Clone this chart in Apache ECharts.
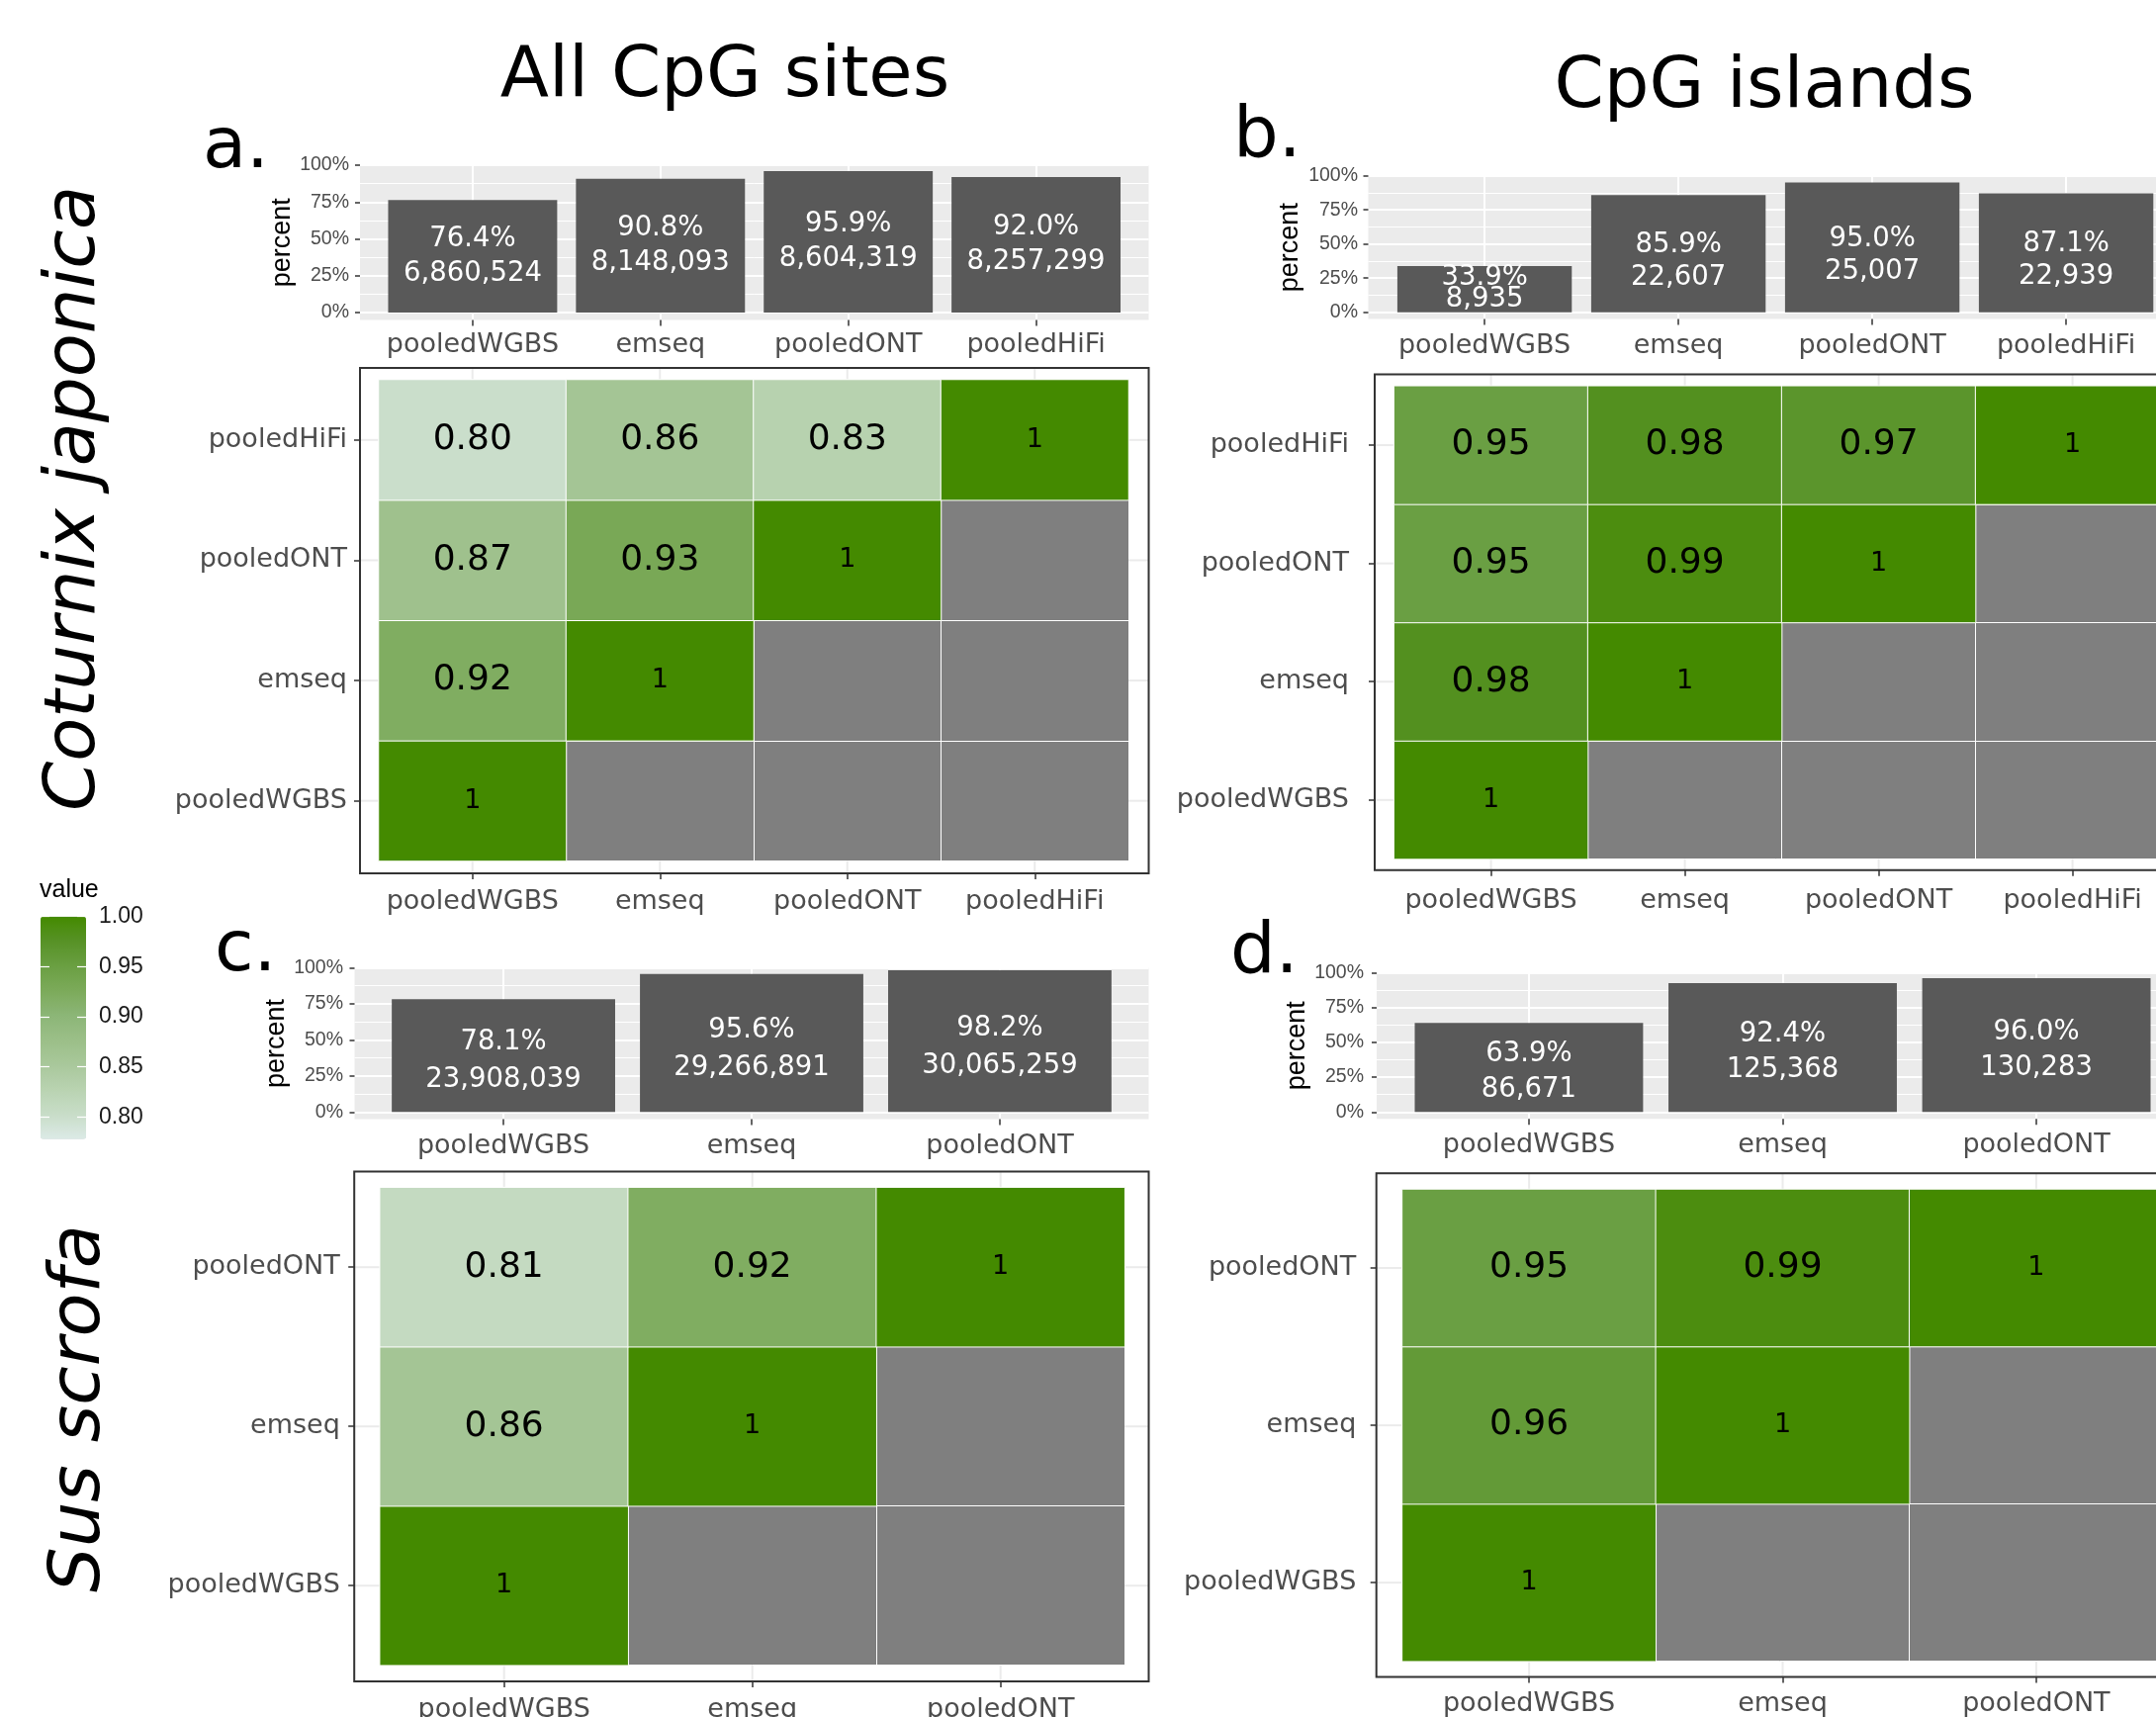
<!DOCTYPE html>
<html><head><meta charset="utf-8">
<script src="https://cdn.jsdelivr.net/npm/echarts@6/dist/echarts.min.js"></script>
<style>html,body{margin:0;padding:0;background:#fff}#c{width:2180px;height:1736px}</style>
</head><body><div id="c"></div>
<script>
// ---------------- data ----------------
const cats4 = ['pooledWGBS', 'emseq', 'pooledONT', 'pooledHiFi'];
const cats3 = ['pooledWGBS', 'emseq', 'pooledONT'];

// a. Coturnix japonica, all CpG sites
const pctA = [76.4, 90.8, 95.9, 92.0];
const countA = [6860524, 8148093, 8604319, 8257299];
// b. Coturnix japonica, CpG islands
const pctB = [33.9, 85.9, 95.0, 87.1];
const countB = [8935, 22607, 25007, 22939];
// c. Sus scrofa, all CpG sites
const pctC = [78.1, 95.6, 98.2];
const countC = [23908039, 29266891, 30065259];
// d. Sus scrofa, CpG islands
const pctD = [63.9, 92.4, 96.0];
const countD = [86671, 125368, 130283];

// correlation matrices: row r = y category (bottom to top), column c = x category; null = NA
const corrA = [
  [1,    null, null, null],
  [0.92, 1,    null, null],
  [0.87, 0.93, 1,    null],
  [0.80, 0.86, 0.83, 1]
];
const corrB = [
  [1,    null, null, null],
  [0.98, 1,    null, null],
  [0.95, 0.99, 1,    null],
  [0.95, 0.98, 0.97, 1]
];
const corrC = [
  [1,    null, null],
  [0.86, 1,    null],
  [0.81, 0.92, 1]
];
const corrD = [
  [1,    null, null],
  [0.96, 1,    null],
  [0.95, 0.99, 1]
];

const yTicks = [0, 0.25, 0.5, 0.75, 1];
const yMinorTicks = [0.125, 0.375, 0.625, 0.875];
const legendTicks = [0.80, 0.85, 0.90, 0.95, 1.00];
const colorMin = 0.778, colorMax = 1.0;
const colorStops = ['#DCEAE6', '#C8DDC8', '#B9D3B1', '#A9C89B', '#9BBF88', '#8CB677', '#7CAA5A', '#6A9F42', '#579226', '#448A00'];

// ---------------- layout (pixels) ----------------
const layout = [
  { bar: {left: 364, top: 167, width: 797.5, height: 156.5, xMargin: 12, yMargin: 11, lineHeight: 35, labelOffset: 0},
    heat: {left: 383, top: 384, width: 758, height: 486.5, pad: [12, 20.5, 12.5, 19], xMargin: 15, yMargin: 13} },
  { bar: {left: 1383.5, top: 177.7, width: 823.2, height: 144.9, xMargin: 14, yMargin: 10.5, lineHeight: 33, labelOffset: 8,
          firstLineHeight: 22, firstOffset: 0},
    heat: {left: 1409.6, top: 390.3, width: 784, height: 478.3, pad: [11.8, 19.6, 11.1, 19.6], xMargin: 18, yMargin: 26} },
  { bar: {left: 358.5, top: 978.3, width: 803, height: 153.3, xMargin: 13.5, yMargin: 11.5, lineHeight: 38, labelOffset: 6},
    heat: {left: 384.2, top: 1200.7, width: 753, height: 483, pad: [16.3, 24.3, 16.3, 26], xMargin: 15, yMargin: 14.4} },
  { bar: {left: 1392, top: 983.3, width: 821, height: 148, xMargin: 13.5, yMargin: 13, lineHeight: 36, labelOffset: 5},
    heat: {left: 1417.9, top: 1202.5, width: 769.2, height: 477.2, pad: [16.3, 26.2, 15.9, 26.2], xMargin: 13.5, yMargin: 20.4} }
];

const panels = [
  {cats: cats4, pct: pctA, count: countA, corr: corrA},
  {cats: cats4, pct: pctB, count: countB, corr: corrB},
  {cats: cats3, pct: pctC, count: countC, corr: corrC},
  {cats: cats3, pct: pctD, count: countD, corr: corrD}
];

const FONT = 'DejaVu Sans';
const FONT2 = 'Liberation Sans';
const AXCOL = '#4D4D4D';
const TICKCOL = '#333333';
const CATSIZE = 27;

const grids = [], xAxes = [], yAxes = [], series = [], heatSeries = [], heatAxes = [];

panels.forEach((p, k) => {
  const n = p.cats.length;
  const B = layout[k].bar, H = layout[k].heat;
  const idx = p.cats.map((_, i) => i);

  // ---- bar chart ----
  const gb = grids.length;
  grids.push({left: B.left, top: B.top, width: B.width, height: B.height, show: true,
    backgroundColor: '#EBEBEB', borderWidth: 0, outerBoundsMode: 'none', containLabel: false});
  const xb = xAxes.length;
  xAxes.push({gridIndex: gb, type: 'value', min: -0.6, max: n - 0.4, position: 'bottom',
    axisLine: {show: false, onZero: false},
    axisTick: {show: true, customValues: idx, length: 6, lineStyle: {color: TICKCOL, width: 1.5}},
    axisLabel: {customValues: idx, formatter: v => p.cats[Math.round(v)], margin: B.xMargin,
      color: AXCOL, fontSize: CATSIZE, fontFamily: FONT},
    splitLine: {show: true, lineStyle: {color: '#FFFFFF', width: 2}}});
  const yb = yAxes.length;
  yAxes.push({gridIndex: gb, type: 'value', min: -0.05, max: 1, position: 'left',
    name: 'percent', nameLocation: 'middle', nameGap: 65, nameRotate: 90,
    nameTextStyle: {fontSize: 27, fontFamily: FONT2, color: '#000'},
    axisLine: {show: false, onZero: false},
    axisTick: {show: true, customValues: yTicks, length: 5, lineStyle: {color: TICKCOL, width: 1.5}},
    axisLabel: {customValues: yTicks, formatter: v => Math.round(v * 100) + '%', margin: B.yMargin,
      color: AXCOL, fontSize: 19.5, fontFamily: FONT2},
    splitLine: {show: true, lineStyle: {color: '#FFFFFF', width: 2}}});
  yAxes.push({gridIndex: gb, type: 'value', min: -0.05, max: 1, position: 'right',
    axisLine: {show: false, onZero: false},
    axisTick: {show: false, customValues: yMinorTicks},
    axisLabel: {show: false},
    splitLine: {show: true, lineStyle: {color: '#FFFFFF', width: 1}}});
  series.push({type: 'bar', xAxisIndex: xb, yAxisIndex: yb, silent: true,
    barWidth: 0.9 * B.width / (n + 0.2),
    itemStyle: {color: '#595959'},
    data: p.pct.map((v, i) => {
      const d = {value: [i, v / 100]};
      if (i === 0 && B.firstLineHeight) d.label = {lineHeight: B.firstLineHeight, offset: [0, B.firstOffset]};
      return d;
    }),
    label: {show: true, position: 'inside', offset: [0, B.labelOffset],
      formatter: prm => p.pct[prm.dataIndex].toFixed(1) + '%\n' + p.count[prm.dataIndex].toLocaleString('en-US'),
      color: '#FFFFFF', fontSize: 27.5, fontFamily: FONT, lineHeight: B.lineHeight},
    emphasis: {disabled: true}});

  // ---- heatmap ----
  const gh = grids.length;
  grids.push({left: H.left, top: H.top, width: H.width, height: H.height, show: true,
    backgroundColor: '#7F7F7F', borderWidth: 0, outerBoundsMode: 'none', containLabel: false});
  const xh = xAxes.length;
  xAxes.push({gridIndex: gh, type: 'category', data: p.cats, position: 'bottom', offset: H.pad[2],
    axisLine: {show: false, onZero: false},
    axisTick: {show: true, alignWithLabel: true, interval: 0, length: 6, lineStyle: {color: TICKCOL, width: 1.5}},
    axisLabel: {interval: 0, margin: H.xMargin, color: AXCOL, fontSize: CATSIZE, fontFamily: FONT},
    splitLine: {show: true, interval: 0, lineStyle: {color: '#FFFFFF', width: 1}}});
  const yh = yAxes.length;
  yAxes.push({gridIndex: gh, type: 'category', data: p.cats, position: 'left', offset: H.pad[3],
    axisLine: {show: false, onZero: false},
    axisTick: {show: true, alignWithLabel: true, interval: 0, length: 6, lineStyle: {color: TICKCOL, width: 1.5}},
    axisLabel: {interval: 0, margin: H.yMargin, color: AXCOL, fontSize: CATSIZE, fontFamily: FONT},
    splitLine: {show: true, interval: 0, lineStyle: {color: '#FFFFFF', width: 1}}});
  const cells = [];
  p.corr.forEach((row, r) => row.forEach((v, c) => { if (v !== null) cells.push([c, r, v]); }));
  heatSeries.push(series.length);
  heatAxes.push({x: xh, y: yh, n: n, H: H});
  series.push({type: 'heatmap', xAxisIndex: xh, yAxisIndex: yh, silent: true,
    data: cells,
    itemStyle: {borderColor: '#FFFFFF', borderWidth: 1},
    label: {show: true,
      formatter: prm => prm.value[2] === 1 ? '{s|1}' : '{b|' + prm.value[2].toFixed(2) + '}',
      rich: {s: {fontSize: 27, fontFamily: FONT, color: '#000'},
             b: {fontSize: 36, fontFamily: FONT, color: '#000'}}},
    emphasis: {disabled: true}});
});

// ---- colour-bar legend ticks/labels ----
const LG = {left: 41, top: 926.7, width: 46, height: 225};
const gl = grids.length;
grids.push({left: LG.left, top: LG.top, width: LG.width, height: LG.height, show: false, outerBoundsMode: 'none', containLabel: false});
xAxes.push({gridIndex: gl, type: 'value', show: false, axisLine: {onZero: false}});
yAxes.push({gridIndex: gl, type: 'value', min: colorMin, max: colorMax, position: 'left', z: 10,
  axisLine: {show: false, onZero: false},
  axisTick: {show: true, inside: true, length: 9, customValues: legendTicks, lineStyle: {color: '#FFFFFF', width: 1.2}},
  axisLabel: {show: false}, splitLine: {show: false}});
yAxes.push({gridIndex: gl, type: 'value', min: colorMin, max: colorMax, position: 'right', z: 10,
  axisLine: {show: false, onZero: false},
  axisTick: {show: true, inside: true, length: 9, customValues: legendTicks, lineStyle: {color: '#FFFFFF', width: 1.2}},
  axisLabel: {customValues: legendTicks, formatter: v => v.toFixed(2), margin: 13,
    color: '#1A1A1A', fontSize: 23, fontFamily: FONT2},
  splitLine: {show: false}});

// ---- text ----
function txt(t, x, y, size, opts) {
  opts = opts || {};
  return {type: 'text', x: x, y: y, rotation: opts.rot ? Math.PI / 2 : 0, z: 20, silent: true,
    style: {text: t, x: 0, y: 0, fill: '#000', fontSize: size, fontFamily: opts.family || FONT,
      fontStyle: opts.italic ? 'italic' : 'normal',
      align: opts.align || 'center', verticalAlign: 'middle'}};
}
const graphics = [
  txt('All CpG sites', 733, 78, 72),
  txt('CpG islands', 1784, 89, 72),
  txt('a.', 205, 150, 72, {align: 'left'}),
  txt('b.', 1247, 139, 72, {align: 'left'}),
  txt('c.', 217, 962, 72, {align: 'left'}),
  txt('d.', 1244, 964, 72, {align: 'left'}),
  txt('Coturnix japonica', 76, 504, 72, {rot: true, italic: true}),
  txt('Sus scrofa', 81, 1424, 72, {rot: true, italic: true}),
  txt('value', 40, 900, 25, {align: 'left', family: FONT2})
];

const chart = echarts.init(document.getElementById('c'), null, {renderer: 'canvas', width: 2180, height: 1736});
chart.setOption({
  animation: false,
  backgroundColor: '#FFFFFF',
  grid: grids, xAxis: xAxes, yAxis: yAxes, series: series,
  visualMap: {type: 'continuous', min: colorMin, max: colorMax, seriesIndex: heatSeries, dimension: 2,
    inRange: {color: colorStops}, show: true, calculable: false, hoverLink: false,
    left: LG.left, top: LG.top, itemWidth: LG.width, itemHeight: LG.height, padding: 0}
});

// panel borders and faint panel grid lines for the heatmaps, positioned via the axes
heatAxes.forEach(h => {
  const H = h.H;
  const bx0 = H.left - H.pad[3], by0 = H.top - H.pad[0];
  const bx1 = H.left + H.width + H.pad[1], by1 = H.top + H.height + H.pad[2];
  for (let i = 0; i < h.n; i++) {
    const cx = chart.convertToPixel({xAxisIndex: h.x}, i);
    const cy = chart.convertToPixel({yAxisIndex: h.y}, i);
    const ls = {stroke: '#EBEBEB', lineWidth: 2};
    graphics.push({type: 'line', z: 1, silent: true, shape: {x1: cx, y1: by0, x2: cx, y2: H.top}, style: ls});
    graphics.push({type: 'line', z: 1, silent: true, shape: {x1: cx, y1: H.top + H.height, x2: cx, y2: by1}, style: ls});
    graphics.push({type: 'line', z: 1, silent: true, shape: {x1: bx0, y1: cy, x2: H.left, y2: cy}, style: ls});
    graphics.push({type: 'line', z: 1, silent: true, shape: {x1: H.left + H.width, y1: cy, x2: bx1, y2: cy}, style: ls});
  }
  graphics.push({type: 'rect', z: 15, silent: true,
    shape: {x: bx0, y: by0, width: bx1 - bx0, height: by1 - by0},
    style: {fill: 'none', stroke: '#333333', lineWidth: 2}});
});
chart.setOption({graphic: graphics});
</script>
</body></html>
